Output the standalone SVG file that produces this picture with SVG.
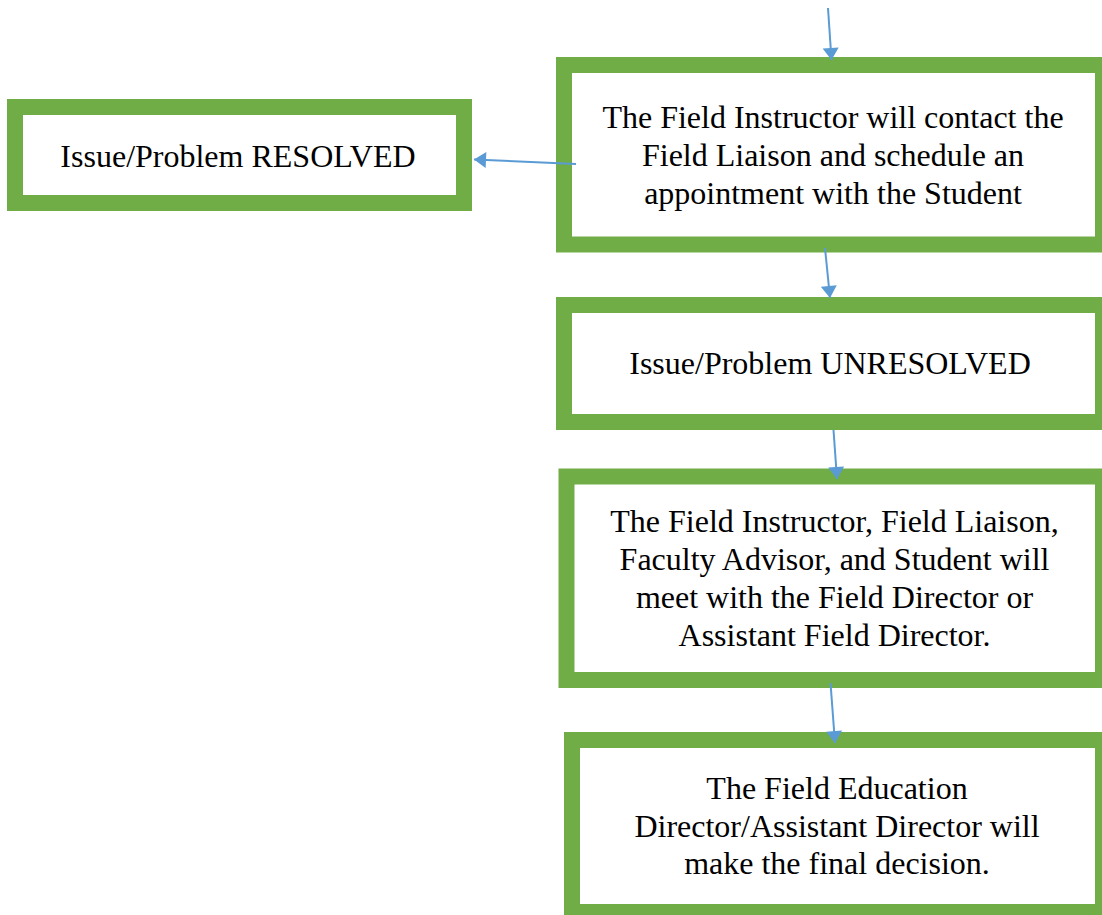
<svg xmlns="http://www.w3.org/2000/svg" width="1102" height="915" viewBox="0 0 1102 915">
<style>
.box{fill:#ffffff;stroke:#70AD47;stroke-width:16}
.t{font-family:"Liberation Serif","Times New Roman",serif;font-size:32px;fill:#000000;text-anchor:middle}
.c{stroke:#5B9BD5;stroke-width:2;fill:none;marker-end:url(#ah)}
</style>
<defs>
<marker id="ah" markerUnits="userSpaceOnUse" markerWidth="14" markerHeight="16" viewBox="0 0 12 16" refX="12" refY="8" orient="auto">
<path d="M0,0 L12,8 L0,16 Z" fill="#5B9BD5"/>
</marker>
</defs>
<rect width="1102" height="915" fill="#ffffff"/>
<g id="resolved">
<rect class="box" x="15" y="107" width="449" height="96"/>
<text class="t" x="238" y="167">Issue/Problem RESOLVED</text>
</g>
<g id="contact">
<rect class="box" x="564" y="65" width="539" height="179.5"/>
<text class="t" x="833" y="128">The Field Instructor will contact the</text>
<text class="t" x="833" y="166">Field Liaison and schedule an</text>
<text class="t" x="833" y="203.5">appointment with the Student</text>
</g>
<g id="unresolved">
<rect class="box" x="564" y="305" width="539" height="117"/>
<text class="t" x="830" y="374">Issue/Problem UNRESOLVED</text>
</g>
<g id="meeting">
<rect class="box" x="566.5" y="476.5" width="536.5" height="203.5"/>
<text class="t" x="834.5" y="531.5">The Field Instructor, Field Liaison,</text>
<text class="t" x="834.5" y="570">Faculty Advisor, and Student will</text>
<text class="t" x="834.5" y="608">meet with the Field Director or</text>
<text class="t" x="834.5" y="646">Assistant Field Director.</text>
</g>
<g id="decision">
<rect class="box" x="572" y="740" width="531" height="172"/>
<text class="t" x="837" y="799">The Field Education</text>
<text class="t" x="837" y="836.5">Director/Assistant Director will</text>
<text class="t" x="837" y="874">make the final decision.</text>
</g>
<g id="connectors">
<line class="c" x1="828" y1="8" x2="831.5" y2="60"/>
<line class="c" x1="576" y1="164" x2="474" y2="159.5"/>
<line class="c" x1="825" y1="248" x2="830" y2="298"/>
<line class="c" x1="833.5" y1="430" x2="837" y2="479"/>
<line class="c" x1="830.5" y1="683" x2="835" y2="743"/>
</g>
</svg>
